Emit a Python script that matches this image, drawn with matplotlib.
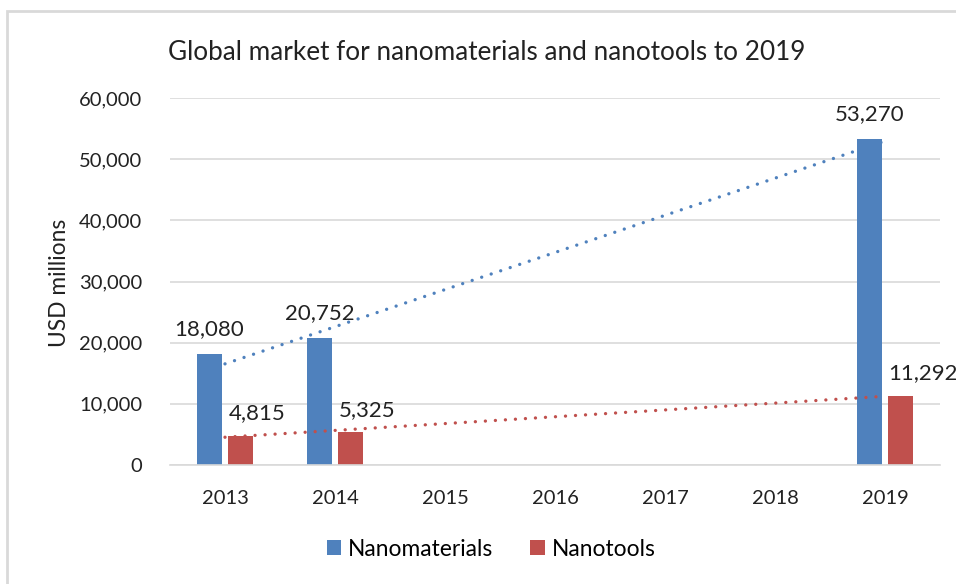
#!/usr/bin/env python3
"""Global market for nanomaterials and nanotools, bar chart with linear trendlines."""
import numpy as np
import matplotlib.pyplot as plt
from matplotlib.patches import Rectangle

years = ["2013", "2014", "2015", "2016", "2017", "2018", "2019"]
nanomaterials = [18080, 20752, None, None, None, None, 53270]
nanotools = [4815, 5325, None, None, None, None, 11292]
yticks = [0, 10000, 20000, 30000, 40000, 50000, 60000]

BLUE = "#4F81BD"
RED = "#C0504D"
GRID = "#D9D9D9"
FONT = "Lato"


def main(out_path="out.png"):
    plt.rcParams["font.family"] = [FONT, "DejaVu Sans"]
    fig = plt.figure(figsize=(9.56, 5.84), dpi=100)
    ax = fig.add_axes([170 / 956, 1 - 465 / 584, 770 / 956, 367 / 584])

    x = np.arange(len(years))
    w = 0.225
    gap = 0.06
    off = (w + gap) / 2

    for vals, shift, color, label in [
        (nanomaterials, -off, BLUE, "Nanomaterials"),
        (nanotools, off, RED, "Nanotools"),
    ]:
        idx = [i for i, v in enumerate(vals) if v is not None]
        ys = [vals[i] for i in idx]
        bars = ax.bar(x[idx] + shift, ys, width=w, color=color, label=label, zorder=2)
        # linear trendline over the category positions
        k, b = np.polyfit(x[idx], ys, 1)
        tx = np.array([x[idx][0], x[idx][-1]])
        ax.plot(tx, k * tx + b, color=color, lw=2.4,
                linestyle=(0, (0.01, 3.0)), dash_capstyle="round", zorder=3)
        for rect, v in zip(bars, ys):
            if color == BLUE:
                ax.annotate(f"{v:,}", (rect.get_x() + rect.get_width() / 2, v),
                            xytext=(0, 11), textcoords="offset points",
                            ha="center", va="bottom", fontsize=16, color="#222222",
                            annotation_clip=False)
            else:
                ax.annotate(f"{v:,}", (rect.get_x(), v),
                            xytext=(0, 9), textcoords="offset points",
                            ha="left", va="bottom", fontsize=16, color="#222222",
                            annotation_clip=False)

    ax.set_xlim(-0.5, len(years) - 0.5)
    ax.set_ylim(0, 60000)
    ax.set_xticks(x)
    ax.set_xticklabels(years)
    ax.set_yticks(yticks)
    ax.set_yticklabels([f"{t:,}" for t in yticks])
    ax.tick_params(axis="both", length=0, labelsize=14.5, colors="#222222")
    ax.tick_params(axis="y", pad=20)
    ax.tick_params(axis="x", pad=18)
    ax.grid(axis="y", color=GRID, lw=1.2, zorder=0)
    ax.set_axisbelow(True)
    for s in ["top", "right", "left"]:
        ax.spines[s].set_visible(False)
    ax.spines["bottom"].set_color(GRID)
    ax.spines["bottom"].set_linewidth(1.2)

    fig.text(60 / 956, 1 - 283 / 584, "USD millions", rotation=90,
             ha="center", va="center", fontsize=16.4, color="#222222")
    fig.text(487 / 956, 1 - 52 / 584,
             "Global market for nanomaterials and nanotools to 2019",
             ha="center", va="center", fontsize=18.8, color="#222222")

    fig.legend(loc="center", bbox_to_anchor=(491 / 956, 1 - 549 / 584), ncol=2,
               frameon=False, fontsize=16.4, handlelength=0.65, handleheight=0.65,
               handletextpad=0.3, columnspacing=1.6)

    # chart frame (partly cropped off at right and bottom)
    fig.patches.append(Rectangle((7 / 956, -0.1), 1.2, 1 - 11 / 584 + 0.1,
                                 transform=fig.transFigure, fill=False,
                                 edgecolor="#D9D9D9", lw=2))

    fig.savefig(out_path, dpi=100)
    print(f"Saved plot to {out_path}")


if __name__ == "__main__":
    main()
